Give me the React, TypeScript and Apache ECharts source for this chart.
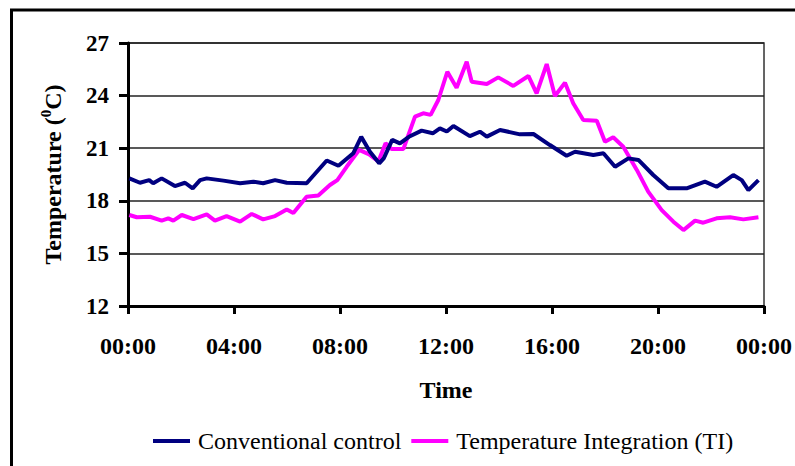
import React, { useEffect, useRef } from "react";
import * as echarts from "echarts";

const tickLabels = ["00:00", "04:00", "08:00", "12:00", "16:00", "20:00", "00:00"];

const convHours = [0.05, 0.45, 0.8, 0.95, 1.27, 1.77, 2.15, 2.44, 2.72, 2.97, 3.6, 4.23, 4.73, 5.1, 5.55, 5.99, 6.74, 7.5, 7.94, 8.5, 8.8, 9.13, 9.48, 9.65, 9.97, 10.26, 10.6, 11.08, 11.5, 11.77, 12.03, 12.28, 12.9, 13.28, 13.54, 14.04, 14.79, 15.3, 15.92, 16.55, 16.87, 17.56, 17.94, 18.38, 18.88, 19.26, 19.82, 20.39, 21.08, 21.77, 22.21, 22.84, 23.16, 23.41, 23.79];
const convTemps = [19.28, 19.03, 19.18, 19.0, 19.28, 18.84, 19.03, 18.71, 19.18, 19.28, 19.15, 19.0, 19.09, 19.0, 19.18, 19.03, 19.0, 20.3, 20.0, 20.71, 21.65, 20.8, 20.14, 20.42, 21.47, 21.28, 21.65, 22.0, 21.85, 22.13, 21.95, 22.27, 21.69, 21.94, 21.66, 22.04, 21.79, 21.81, 21.18, 20.57, 20.8, 20.61, 20.71, 19.94, 20.42, 20.33, 19.47, 18.71, 18.71, 19.09, 18.8, 19.47, 19.18, 18.61, 19.18];

const tiHours = [0.05, 0.33, 0.83, 1.27, 1.52, 1.71, 2.03, 2.47, 2.97, 3.28, 3.72, 4.23, 4.67, 5.1, 5.55, 5.99, 6.24, 6.74, 7.18, 7.62, 7.9, 8.25, 8.72, 9.1, 9.45, 9.72, 9.95, 10.39, 10.83, 11.14, 11.42, 11.71, 12.05, 12.4, 12.78, 12.97, 13.54, 13.97, 14.54, 15.11, 15.42, 15.8, 16.11, 16.49, 16.8, 17.18, 17.69, 18.0, 18.31, 18.69, 19.2, 19.63, 20.14, 20.58, 20.96, 21.4, 21.71, 22.21, 22.72, 23.22, 23.79];
const tiTemps = [17.19, 17.06, 17.09, 16.87, 17.0, 16.87, 17.19, 16.96, 17.22, 16.87, 17.13, 16.81, 17.25, 16.94, 17.13, 17.51, 17.3, 18.23, 18.3, 18.9, 19.18, 19.94, 20.9, 20.65, 20.25, 21.28, 20.95, 20.95, 22.8, 22.99, 22.9, 23.75, 25.36, 24.45, 25.93, 24.79, 24.66, 25.04, 24.55, 25.12, 24.13, 25.8, 23.98, 24.74, 23.56, 22.61, 22.57, 21.37, 21.62, 21.08, 19.76, 18.52, 17.47, 16.81, 16.33, 16.87, 16.75, 17.0, 17.06, 16.94, 17.06];

const seriesNames = ["Conventional control", "Temperature Integration (TI)"];
const serif = "'Liberation Serif', 'Times New Roman', serif";

export default function App() {
  const ref = useRef<HTMLDivElement>(null);
  useEffect(() => {
    if (!ref.current) return;
    const chart = echarts.init(ref.current, undefined, { renderer: "svg" });
    const zip = (h: number[], t: number[]) => h.map((x, i) => [x, t[i]]);
    chart.setOption({
      animation: false,
      backgroundColor: "#fff",
      grid: { left: 128, top: 43, right: 30, bottom: 160, show: true, borderColor: "#333", borderWidth: 1.5 },
      graphic: [
        { type: "rect", shape: { x: 11.5, y: 10, width: 820, height: 480 }, style: { fill: "none", stroke: "#000", lineWidth: 3 }, silent: true, z: -1 },
      ],
      legend: {
        left: 148,
        top: 424,
        itemWidth: 37,
        itemHeight: 4,
        itemGap: 10,
        icon: "rect",
        textStyle: { fontFamily: serif, fontSize: 24, color: "#000", padding: [0, 0, 0, 3] },
        data: seriesNames,
      },
      xAxis: {
        type: "value",
        min: 0,
        max: 24,
        interval: 4,
        name: "Time",
        nameLocation: "middle",
        nameGap: 72,
        nameTextStyle: { fontFamily: serif, fontSize: 24, fontWeight: "bold", color: "#000" },
        axisLine: { lineStyle: { color: "#000", width: 3 } },
        axisTick: { length: 8, lineStyle: { color: "#000", width: 3 } },
        axisLabel: {
          margin: 28,
          fontFamily: serif,
          fontSize: 24,
          fontWeight: "bold",
          color: "#000",
          formatter: (v: number) => tickLabels[Math.round(v / 4)],
        },
        splitLine: { show: false },
      },
      yAxis: {
        type: "value",
        min: 12,
        max: 27,
        interval: 3,
        name: "Temperature ({sup|0}C)",
        nameLocation: "middle",
        nameRotate: 90,
        nameGap: 60,
        nameTextStyle: {
          fontFamily: serif,
          fontSize: 24,
          fontWeight: "bold",
          color: "#000",
          rich: {
            sup: { fontFamily: serif, fontSize: 15, fontWeight: "bold", color: "#000", verticalAlign: "top", lineHeight: 30 },
          },
        },
        axisLine: { show: true, lineStyle: { color: "#000", width: 3 } },
        axisTick: { show: true, length: 9, lineStyle: { color: "#000", width: 3 } },
        axisLabel: { margin: 19, fontFamily: serif, fontSize: 23, fontWeight: "bold", color: "#000" },
        splitLine: { lineStyle: { color: "#222", width: 1.5 } },
      },
      series: [
        {
          name: seriesNames[0],
          type: "line",
          data: zip(convHours, convTemps),
          showSymbol: false,
          symbol: "none",
          lineStyle: { color: "#000080", width: 4 },
          itemStyle: { color: "#000080" },
          z: 3,
        },
        {
          name: seriesNames[1],
          type: "line",
          data: zip(tiHours, tiTemps),
          showSymbol: false,
          symbol: "none",
          lineStyle: { color: "#FF00FF", width: 4 },
          itemStyle: { color: "#FF00FF" },
          z: 2,
        },
      ],
    });
    return () => chart.dispose();
  }, []);
  return <div ref={ref} style={{ position: "fixed", left: 0, top: 0, width: 795, height: 466 }} />;
}
